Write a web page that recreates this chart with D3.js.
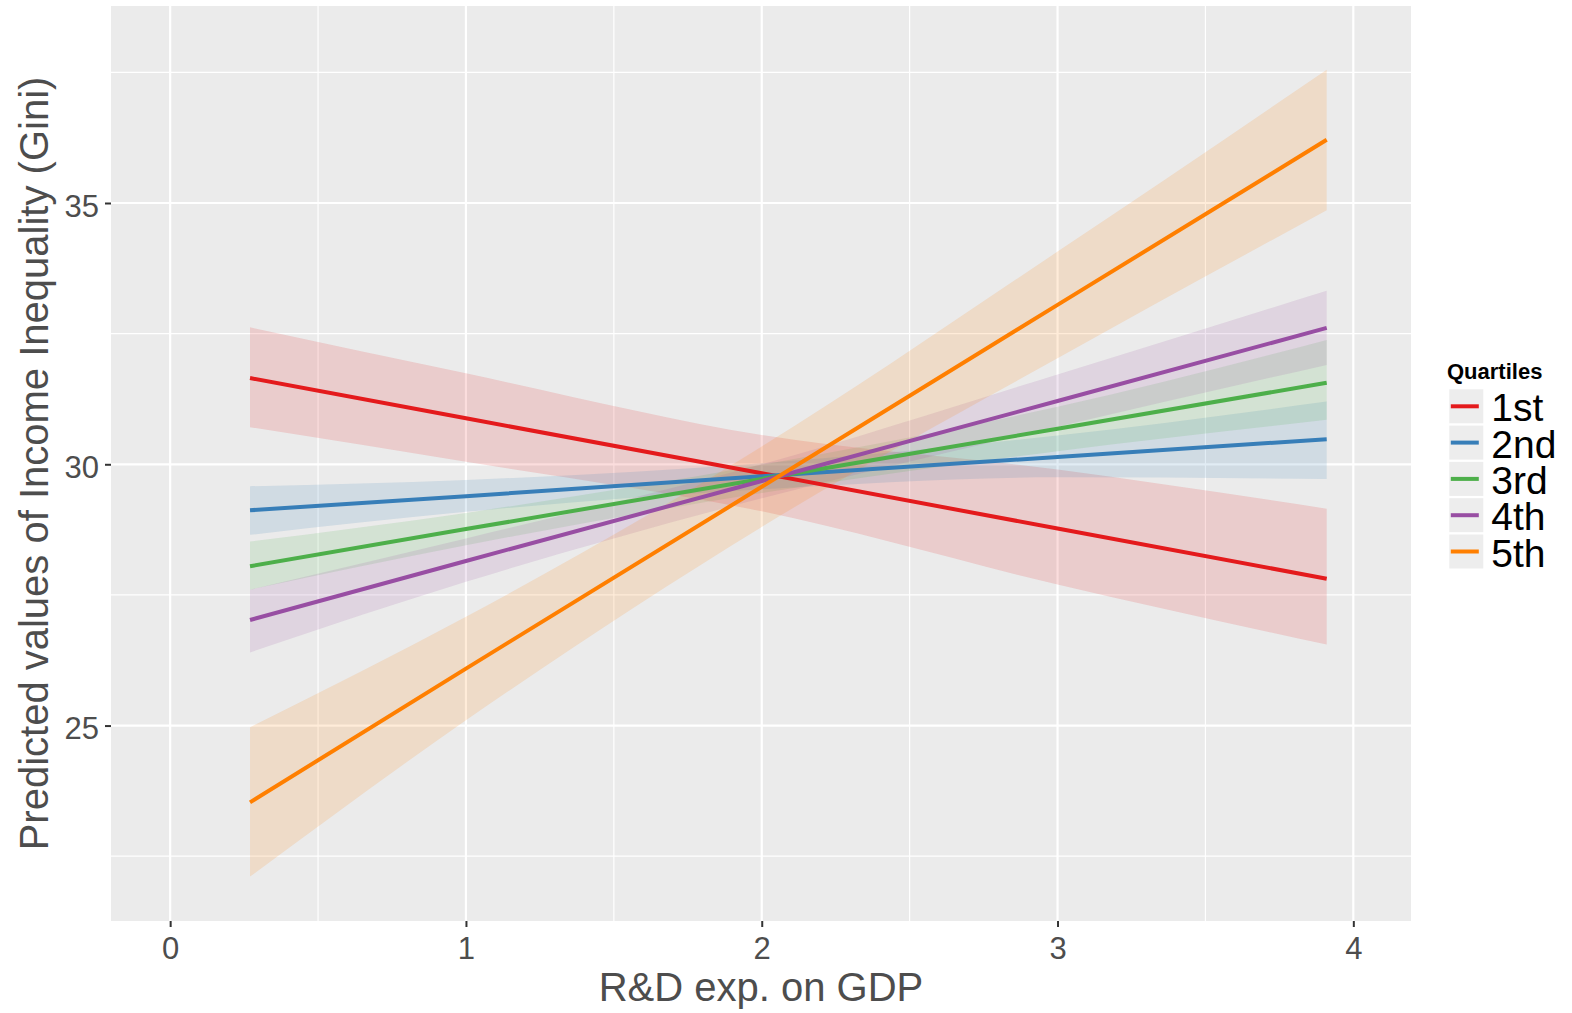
<!DOCTYPE html>
<html>
<head>
<meta charset="utf-8">
<script src="https://cdn.jsdelivr.net/npm/d3@7"></script>
<style>
  html, body { margin: 0; padding: 0; background: #ffffff; }
  svg { display: block; font-family: "Liberation Sans", Arial, sans-serif; }
</style>
</head>
<body>
<svg id="chart" width="1572" height="1013"></svg>
<script>
// Predicted Gini by R&D expenditure, one fitted line and 95% band per quartile
const quartiles = ["1st", "2nd", "3rd", "4th", "5th"];
const colors = ["#E41A1C", "#377EB8", "#4DAF4A", "#984EA3", "#FF7F00"];

// R&D exp. on GDP at which predictions are read
const rdValues = [0.27, 1, 2, 3, 3.91];

const fit1st  = [31.65, 30.88, 29.83, 28.77, 27.81];
const low1st  = [30.71, 30.05, 29.10, 27.70, 26.55];
const high1st = [32.62, 31.74, 30.56, 29.90, 29.15];

const fit2nd  = [29.12, 29.39, 29.77, 30.14, 30.48];
const low2nd  = [28.65, 29.09, 29.52, 29.75, 29.72];
const high2nd = [29.58, 29.70, 30.02, 30.55, 31.20];

const fit3rd  = [28.05, 28.76, 29.72, 30.68, 31.56];
const low3rd  = [27.60, 28.45, 29.45, 30.25, 30.85];
const high3rd = [28.52, 29.07, 29.99, 31.10, 32.38];

const fit4th  = [27.02, 28.15, 29.68, 31.21, 32.61];
const low4th  = [26.40, 27.75, 29.35, 30.72, 31.90];
const high4th = [27.60, 28.58, 30.00, 31.72, 33.32];

const fit5th  = [23.53, 26.09, 29.57, 33.05, 36.21];
const low5th  = [22.11, 25.10, 28.80, 32.03, 34.86];
const high5th = [24.97, 27.08, 30.34, 34.07, 37.55];

const xTicks = [0, 1, 2, 3, 4];
const xMinor = [0.5, 1.5, 2.5, 3.5];
const yTicks = [25, 30, 35];
const yMinor = [22.5, 27.5, 32.5, 37.5];

const fits  = [fit1st, fit2nd, fit3rd, fit4th, fit5th];
const lows  = [low1st, low2nd, low3rd, low4th, low5th];
const highs = [high1st, high2nd, high3rd, high4th, high5th];

const series = quartiles.map((q, i) => ({
  name: q,
  color: colors[i],
  points: rdValues.map((x, j) => ({ x, fit: fits[i][j], lo: lows[i][j], hi: highs[i][j] }))
}));

const panel = { left: 111, right: 1411, top: 6, bottom: 921 };

const x = d3.scaleLinear().domain([-0.2, 4.195]).range([panel.left, panel.right]);
const y = d3.scaleLinear().domain([21.26, 38.77]).range([panel.bottom, panel.top]);

const svg = d3.select("#chart");

// panel background
svg.append("rect")
  .attr("x", panel.left).attr("y", panel.top)
  .attr("width", panel.right - panel.left)
  .attr("height", panel.bottom - panel.top)
  .attr("fill", "#EBEBEB");

// grid
const grid = svg.append("g").attr("stroke", "#ffffff").attr("fill", "none");
grid.selectAll(".xminor").data(xMinor).join("line")
  .attr("x1", d => x(d)).attr("x2", d => x(d))
  .attr("y1", panel.top).attr("y2", panel.bottom)
  .attr("stroke-width", 1.2);
grid.selectAll(".yminor").data(yMinor).join("line")
  .attr("y1", d => y(d)).attr("y2", d => y(d))
  .attr("x1", panel.left).attr("x2", panel.right)
  .attr("stroke-width", 1.2);
grid.selectAll(".xmajor").data(xTicks).join("line")
  .attr("x1", d => x(d)).attr("x2", d => x(d))
  .attr("y1", panel.top).attr("y2", panel.bottom)
  .attr("stroke-width", 2.2);
grid.selectAll(".ymajor").data(yTicks).join("line")
  .attr("y1", d => y(d)).attr("y2", d => y(d))
  .attr("x1", panel.left).attr("x2", panel.right)
  .attr("stroke-width", 2.2);

// confidence bands
const area = d3.area()
  .x(d => x(d.x))
  .y0(d => y(d.lo))
  .y1(d => y(d.hi))
  .curve(d3.curveMonotoneX);

svg.append("g").selectAll("path").data(series).join("path")
  .attr("d", d => area(d.points))
  .attr("fill", d => d.color)
  .attr("fill-opacity", 0.15);

// fitted lines
const line = d3.line().x(d => x(d.x)).y(d => y(d.fit));
svg.append("g").selectAll("path").data(series).join("path")
  .attr("d", d => line(d.points))
  .attr("fill", "none")
  .attr("stroke", d => d.color)
  .attr("stroke-width", 4)
  .attr("stroke-linecap", "butt");

// axes
const xAxis = svg.append("g")
  .attr("transform", `translate(0,${panel.bottom})`)
  .call(d3.axisBottom(x).tickValues(xTicks).tickSize(6).tickPadding(10).tickFormat(d3.format("d")));
const yAxis = svg.append("g")
  .attr("transform", `translate(${panel.left},0)`)
  .call(d3.axisLeft(y).tickValues(yTicks).tickSize(6).tickPadding(6).tickFormat(d3.format("d")));

[xAxis, yAxis].forEach(g => {
  g.select(".domain").remove();
  g.selectAll(".tick line").attr("stroke", "#333333").attr("stroke-width", 2);
  g.selectAll(".tick text")
    .attr("fill", "#4D4D4D")
    .style("font-size", "31px")
    .style("font-family", "'Liberation Sans', Arial, sans-serif");
});
yAxis.selectAll(".tick text").attr("dy", "0.42em");

// axis titles
svg.append("text")
  .attr("x", (panel.left + panel.right) / 2)
  .attr("y", 1001)
  .attr("text-anchor", "middle")
  .attr("fill", "#4D4D4D")
  .style("font-size", "40px")
  .text("R&D exp. on GDP");

svg.append("text")
  .attr("transform", `translate(48,${(panel.top + panel.bottom) / 2}) rotate(-90)`)
  .attr("text-anchor", "middle")
  .attr("fill", "#4D4D4D")
  .style("font-size", "40px")
  .text("Predicted values of Income Inequality (Gini)");

// legend
const legend = svg.append("g");
legend.append("text")
  .attr("x", 1447).attr("y", 379)
  .attr("fill", "#000000")
  .style("font-size", "22px")
  .style("font-weight", "bold")
  .text("Quartiles");

const keySize = 34, keyStep = 36.3, keyTop = 389.3, keyLeft = 1449.3;
const keys = legend.selectAll(".key").data(series).join("g")
  .attr("transform", (d, i) => `translate(${keyLeft},${keyTop + i * keyStep})`);
keys.append("rect")
  .attr("width", keySize).attr("height", keySize)
  .attr("fill", "#EDEDED");
keys.append("line")
  .attr("x1", 1.5).attr("x2", keySize - 4.5)
  .attr("y1", keySize / 2).attr("y2", keySize / 2)
  .attr("stroke", d => d.color)
  .attr("stroke-width", 4);
keys.append("text")
  .attr("x", 42).attr("y", keySize / 2 + 15)
  .attr("fill", "#000000")
  .style("font-size", "39px")
  .text(d => d.name);
</script>
</body>
</html>
